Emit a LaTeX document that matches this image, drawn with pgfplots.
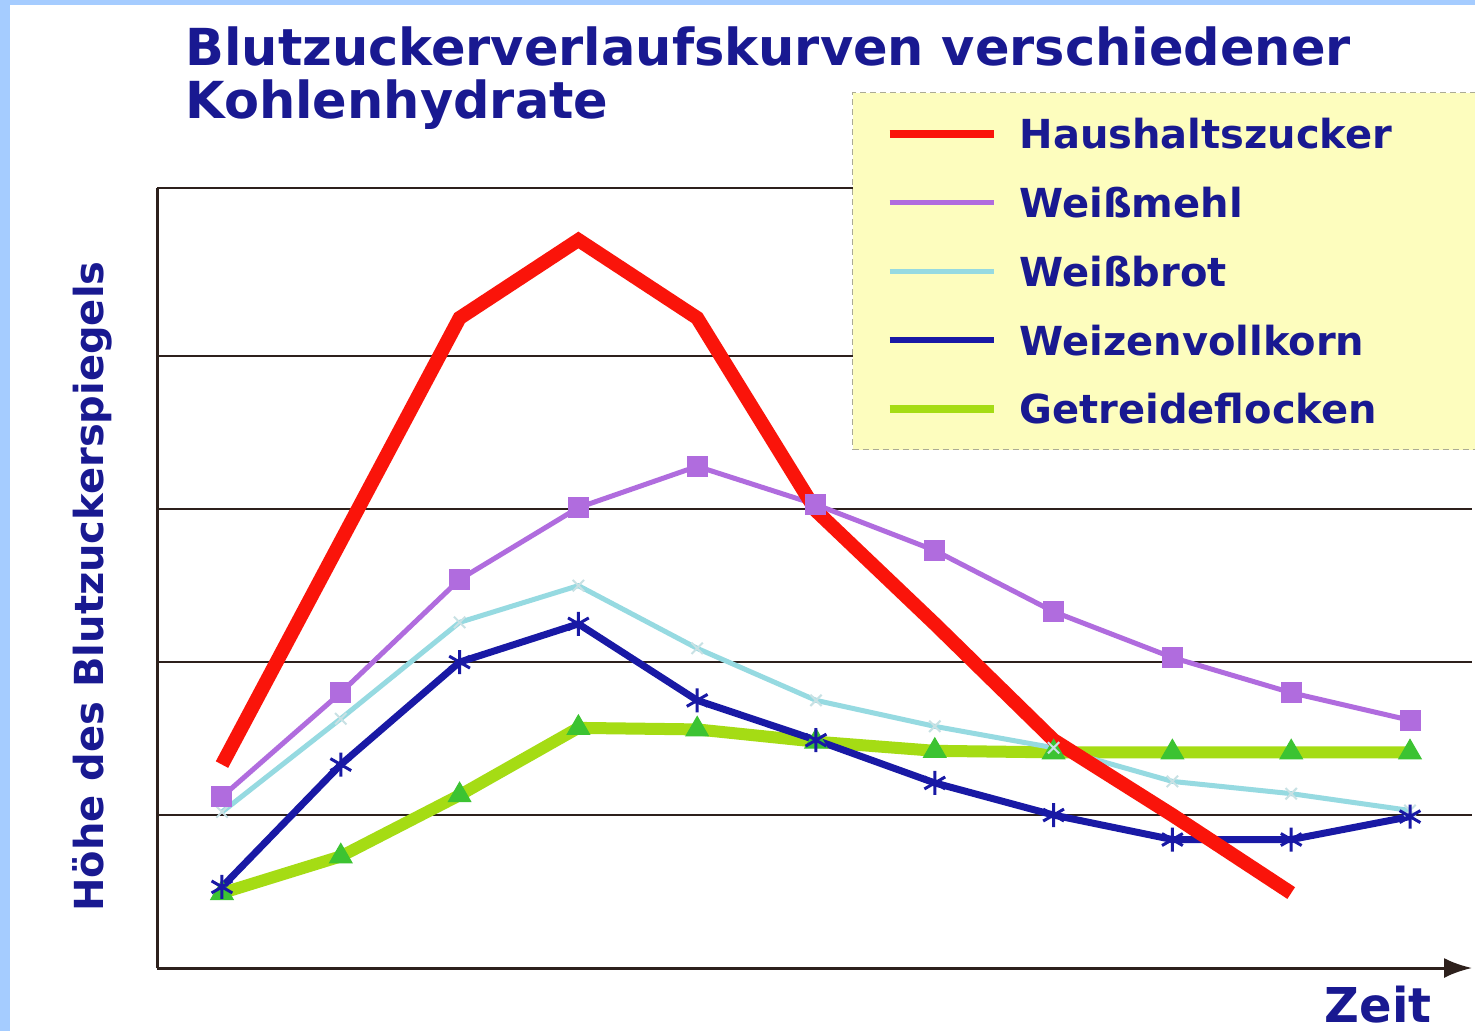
\documentclass[border=0pt]{standalone}
\usepackage{fontspec}
\setmainfont{DejaVu Sans}
\usepackage{pgfplots}
\pgfplotsset{compat=1.18}
\usetikzlibrary{arrows.meta}
\definecolor{txtblue}{RGB}{25,25,145}
\definecolor{bgblue}{RGB}{165,204,255}
\definecolor{hred}{RGB}{250,20,10}
\definecolor{wmehl}{RGB}{176,108,222}
\definecolor{wbrot}{RGB}{150,218,225}
\definecolor{wbrotmark}{RGB}{200,225,228}
\definecolor{wvoll}{RGB}{25,25,165}
\definecolor{grn}{RGB}{165,220,20}
\definecolor{grnmark}{RGB}{60,195,50}
\definecolor{gridc}{RGB}{45,32,28}
\definecolor{legyellow}{RGB}{253,253,190}
\definecolor{legborder}{RGB}{170,170,150}
\begin{document}
\begin{tikzpicture}
\useasboundingbox (0,0) rectangle (737.5pt,-515.5pt);
\fill[white] (0,0) rectangle (737.5pt,-515.5pt);
\fill[bgblue] (0,0) rectangle (5pt,-515.5pt);
\fill[bgblue] (0,0) rectangle (737.5pt,-2.5pt);
\node[anchor=base west, text=txtblue, font=\fontsize{25.5}{26}\selectfont\bfseries, inner sep=0pt] at (92.5pt,-33pt) {Blutzuckerverlaufskurven verschiedener};
\node[anchor=base west, text=txtblue, font=\fontsize{25.5}{26}\selectfont\bfseries, inner sep=0pt] at (92.5pt,-59.5pt) {Kohlenhydrate};
\node[anchor=base, rotate=90, text=txtblue, font=\fontsize{20}{24}\selectfont\bfseries, inner sep=0pt] at (51.5pt,-293.25pt) {Höhe des Blutzuckerspiegels};
\node[anchor=base east, text=txtblue, font=\fontsize{24}{28}\selectfont\bfseries, inner sep=0pt] at (716pt,-511pt) {Zeit};
\begin{axis}[
  at={(78.5pt,-484pt)}, anchor=south west,
  scale only axis, width=657.5pt, height=390pt,
  xmin=-0.547, xmax=10.522, ymin=0, ymax=5.1,
  axis x line=bottom, axis y line=left,
  xtick=\empty, ytick={1,2,3,4,5.1}, yticklabels={},
  major tick length=0pt,
  ymajorgrids, grid style={line width=1.1pt, color=gridc},
  axis line style={line width=1.5pt, color=gridc},
  x axis line style={-{Latex[length=14pt,width=10pt]}},
  y axis line style={-},
  legend cell align=left,
  legend style={at={(0.5285,1.1231)}, anchor=north west,
    fill=legyellow, draw=legborder, densely dashed, line width=0.6pt,
    inner xsep=16.5pt, inner ysep=13pt, row sep=19.4pt, column sep=11pt,
    font=\fontsize{20}{24}\selectfont\bfseries, text=txtblue,
    nodes={text width=214pt, text height=15pt, text depth=0pt, inner xsep=0pt, inner ysep=0pt}},
]
% Getreideflocken
\addplot[forget plot, color=grn, line width=6pt, mark=triangle*, mark size=6.5pt,
  mark options={solid, fill=grnmark, draw=grnmark, line width=0.5pt}] coordinates {
  (0,0.49) (1,0.73) (2,1.13) (3,1.57) (4,1.56) (5,1.48) (6,1.42) (7,1.41) (8,1.41) (9,1.41) (10,1.41)};
% Weissbrot
\addplot[forget plot, color=wbrot, line width=2.5pt, mark=x, mark size=4pt,
  mark options={solid, draw=wbrotmark, line width=1pt}] coordinates {
  (0,1.02) (1,1.63) (2,2.26) (3,2.50) (4,2.09) (5,1.75) (6,1.58) (7,1.44) (8,1.22) (9,1.14) (10,1.03)};
% Weissmehl
\addplot[forget plot, color=wmehl, line width=2.5pt, mark=square*, mark size=5pt,
  mark options={solid, fill=wmehl, draw=wmehl, line width=0.5pt}] coordinates {
  (0,1.12) (1,1.80) (2,2.54) (3,3.01) (4,3.28) (5,3.03) (6,2.73) (7,2.33) (8,2.03) (9,1.80) (10,1.62)};
% Weizenvollkorn
\addplot[forget plot, color=wvoll, line width=3.5pt, mark=asterisk, mark size=6pt,
  mark options={solid, draw=wvoll, line width=1.5pt}] coordinates {
  (0,0.53) (1,1.33) (2,2.00) (3,2.25) (4,1.75) (5,1.49) (6,1.21) (7,1.00) (8,0.84) (9,0.84) (10,0.99)};
% Haushaltszucker
\addplot[forget plot, color=hred, line width=7pt, mark=none] coordinates {
  (0,1.33) (1,2.79) (2,4.25) (3,4.76) (4,4.25) (5,2.99) (6,2.25) (7,1.49) (8,1.00) (9,0.49)};
\addlegendimage{legend image code/.code={\draw[solid, color=hred, line width=4pt] (0pt,0pt) -- (52pt,0pt);}}
\addlegendimage{legend image code/.code={\draw[solid, color=wmehl, line width=2.5pt] (0pt,0pt) -- (52pt,0pt);}}
\addlegendimage{legend image code/.code={\draw[solid, color=wbrot, line width=2.5pt] (0pt,0pt) -- (52pt,0pt);}}
\addlegendimage{legend image code/.code={\draw[solid, color=wvoll, line width=3pt] (0pt,0pt) -- (52pt,0pt);}}
\addlegendimage{legend image code/.code={\draw[solid, color=grn, line width=4pt] (0pt,0pt) -- (52pt,0pt);}}
\legend{Haushaltszucker, Weißmehl, Weißbrot, Weizenvollkorn, Getreideflocken}
\end{axis}
\end{tikzpicture}
\end{document}
